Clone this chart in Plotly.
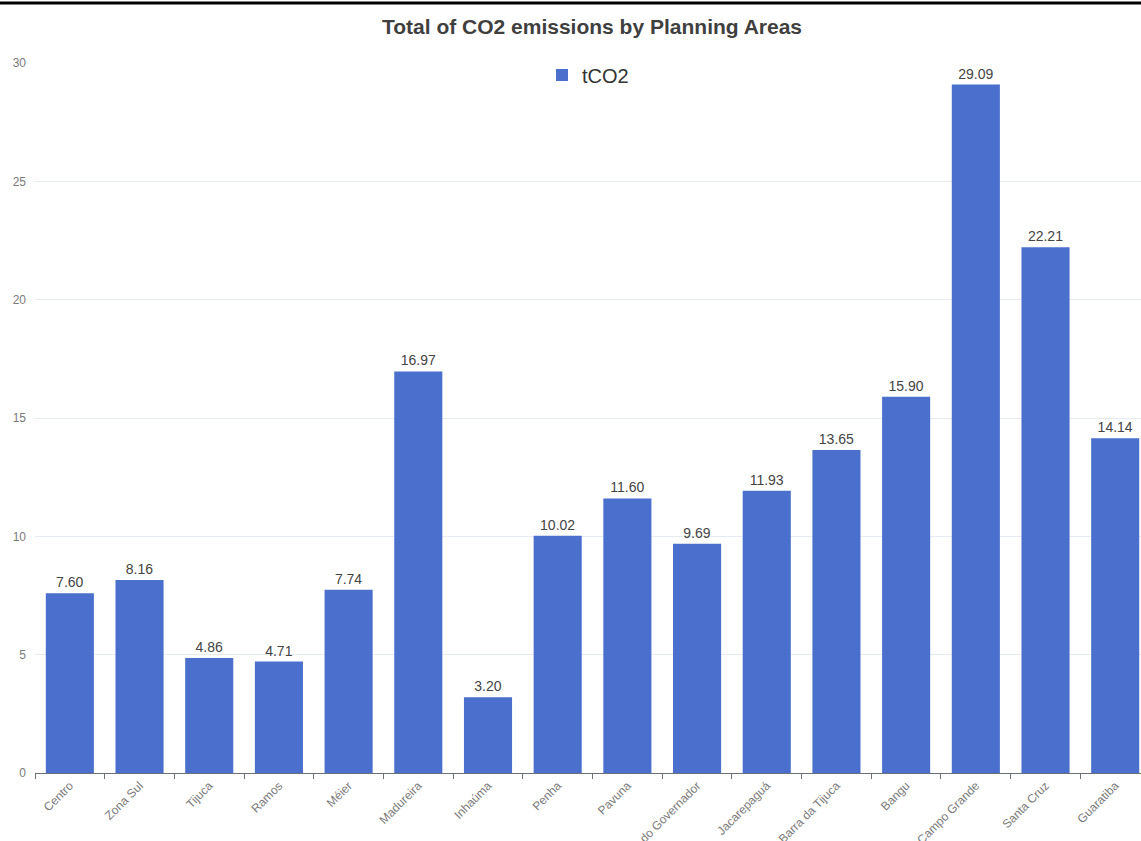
import plotly.graph_objects as go

categories = ["Centro", "Zona Sul", "Tijuca", "Ramos", "Méier", "Madureira", "Inhaúma",
              "Penha", "Pavuna", "Ilha do Governador", "Jacarepaguá", "Barra da Tijuca",
              "Bangu", "Campo Grande", "Santa Cruz", "Guaratiba"]
tco2 = [7.60, 8.16, 4.86, 4.71, 7.74, 16.97, 3.20, 10.02, 11.60, 9.69, 11.93, 13.65,
        15.90, 29.09, 22.21, 14.14]
y_ticks = [0, 5, 10, 15, 20, 25, 30]

FONT = "Liberation Sans, Arial, sans-serif"
AXIS_GRAY = "#7A7A7A"

fig = go.Figure(go.Bar(
    x=categories, y=tco2, name="tCO2",
    marker=dict(color="#4A6FCC", line=dict(width=0)),
    texttemplate="%{y:.2f}", textposition="outside",
    textfont=dict(size=14, color="#444444", family=FONT),
    cliponaxis=False,
))

fig.update_layout(
    width=1141, height=841,
    margin=dict(l=35, r=0, t=63, b=68),
    paper_bgcolor="white", plot_bgcolor="white",
    font=dict(family=FONT),
    bargap=0.31,
    title=dict(text="<b>Total of CO2 emissions by Planning Areas</b>",
               x=592 / 1141, xanchor="center", xref="container",
               y=1 - 27 / 841, yanchor="middle", yref="container",
               font=dict(size=21, color="#3F3F3F", family=FONT)),
    showlegend=True,
    legend=dict(orientation="h", x=0.50, xanchor="center", y=0.983, yanchor="middle",
                font=dict(size=20, color="#333333", family=FONT),
                bgcolor="rgba(0,0,0,0)"),
    xaxis=dict(range=[-0.5, 15.37], showline=True, linecolor="#6E7079", linewidth=1,
               ticks="outside", tickson="boundaries", ticklen=5, tickcolor="#6E7079",
               tickangle=-45, tickfont=dict(size=12, color=AXIS_GRAY),
               showgrid=False, automargin=False, fixedrange=True),
    yaxis=dict(range=[0, 30], tickvals=y_ticks, showgrid=True, gridcolor="#E6EAF2",
               gridwidth=1, zeroline=False, showline=False, ticklabelstandoff=8,
               tickfont=dict(size=12, color=AXIS_GRAY), automargin=False),
    shapes=[dict(type="line", xref="paper", yref="paper", x0=-0.04, x1=1.0,
                 y0=(773 - 3) / 710, y1=(773 - 3) / 710,
                 line=dict(color="black", width=3))],
)

fig.write_html("out.html")
